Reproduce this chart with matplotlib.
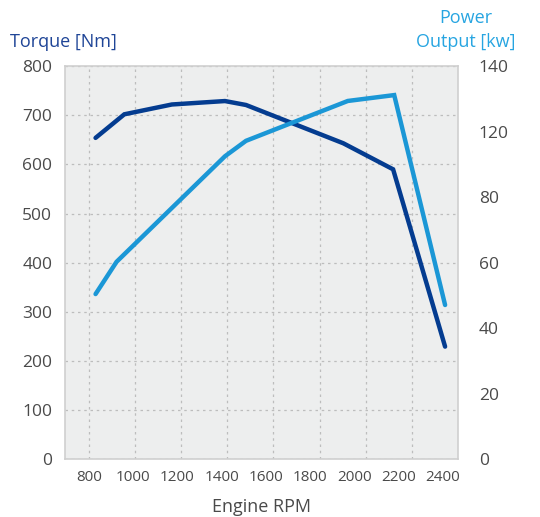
import numpy as np
import matplotlib.pyplot as plt
from matplotlib.ticker import FixedLocator

# Data
torque_rpm = [830, 960, 1175, 1415, 1510, 1950, 2175, 2410]
torque_nm = [654, 702, 722, 729, 721, 643, 590, 229]

power_rpm = [830, 925, 1415, 1510, 1970, 2180, 2410]
power_kw = [58.8, 70.3, 107.9, 113.4, 127.6, 129.7, 54.9]

rpm_ticks = [800, 1000, 1200, 1400, 1600, 1800, 2000, 2200, 2400]
torque_ticks = [0, 100, 200, 300, 400, 500, 600, 700, 800]
power_labels = ["0", "20", "40", "60", "80", "120", "140"]

# Colours
dark_blue = "#043c90"
light_blue = "#1b97d6"
text_grey = "#4a4a4a"
grid_grey = "#bdbdbd"

plt.rcParams["font.family"] = ["Open Sans", "DejaVu Sans"]

fig = plt.figure(figsize=(5.40, 5.17), dpi=100)
ax = fig.add_axes([0.120, 0.112, 0.728, 0.760])
ax.set_facecolor("#edeeee")
for s in ax.spines.values():
    s.set_color("#cfcfcf")
    s.set_linewidth(1.2)

ax.plot(torque_rpm, torque_nm, color=dark_blue, lw=3.2, solid_capstyle="round",
        solid_joinstyle="miter", zorder=3)
ax.set_xlim(691, 2468)
ax.set_ylim(0, 800)
ax.set_xticks(rpm_ticks)
ax.set_yticks(torque_ticks)
ax.tick_params(axis="x", length=0, pad=8, labelsize=11, labelcolor=text_grey)
ax.tick_params(axis="y", length=0, pad=9, labelsize=12.5, labelcolor=text_grey)

# vertical grid is drawn on its own spacing in the reference
ax.xaxis.set_minor_locator(FixedLocator(np.linspace(801, 2259, 8)))
ax.tick_params(axis="x", which="minor", length=0)
ax.grid(False)
ax.grid(True, axis="x", which="minor", color=grid_grey, ls=(0, (2, 3)), lw=0.9)
ax.grid(True, axis="y", which="major", color=grid_grey, ls=(0, (2, 3)), lw=0.9)
ax.set_axisbelow(True)

ax.set_xlabel("Engine RPM", fontsize=13, color=text_grey, labelpad=9)

ax2 = ax.twinx()
ax2.plot(power_rpm, power_kw, color=light_blue, lw=3.2, solid_capstyle="round",
         solid_joinstyle="miter", zorder=3)
ax2.set_ylim(0, 140)
ax2.set_yticks(np.linspace(0, 140, len(power_labels)))
ax2.set_yticklabels(power_labels)
ax2.tick_params(axis="y", length=0, pad=15, labelsize=12.5, labelcolor=text_grey)
for s in ax2.spines.values():
    s.set_visible(False)

fig.text(10 / 540, 1 - 42 / 517, "Torque [Nm]", color="#1f4597", fontsize=13,
         ha="left", va="center")
fig.text(466 / 540, 1 - 30 / 517, "Power\nOutput [kw]", color="#27a5e1", fontsize=13,
         ha="center", va="center", linespacing=1.4)

fig.savefig("out.png", dpi=100)
